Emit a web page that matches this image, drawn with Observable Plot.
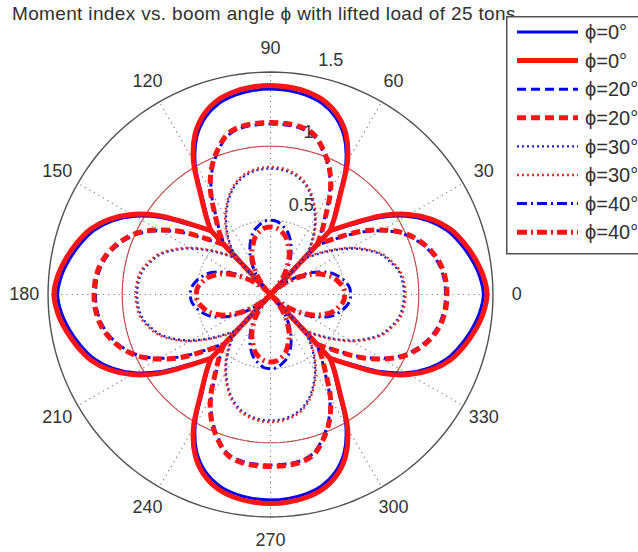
<!DOCTYPE html>
<html>
<head>
<meta charset="utf-8">
<script src="https://cdn.jsdelivr.net/npm/d3@7"></script>
<script src="https://cdn.jsdelivr.net/npm/@observablehq/plot@0.6"></script>
<style>
  html, body { margin: 0; padding: 0; background: #fff; }
  #wrap { position: relative; width: 638px; height: 552px; overflow: hidden; font-family: "Liberation Sans", Arial, sans-serif; }
  #title { position: absolute; left: 12px; top: 3px; font-size: 19px; color: #303030; white-space: nowrap; letter-spacing: 0.35px; }
  #legend { position: absolute; left: 506px; top: 16px; }
</style>
</head>
<body>
<div id="wrap">
  <div id="chart"></div>
  <div id="title"></div>
  <div id="legend"></div>
</div>
<script>
// ---- data ----
const titleText = "Moment index vs. boom angle ϕ with lifted load of 25 tons";
const legendLabels = ["ϕ=0°", "ϕ=0°", "ϕ=20°", "ϕ=20°", "ϕ=30°", "ϕ=30°", "ϕ=40°", "ϕ=40°"];
const seriesColors = ["#0000f0", "#ff1414", "#0000f0", "#ff1414", "#2020c0", "#e03030", "#0000f0", "#ff1414"];
const seriesWidths = [3, 5, 3, 5, 2.4, 2.4, 3, 5];
const seriesDashes = [null, null, "9,5", "9,5", "2,3", "2,3", "10,4,2,4", "10,4,2,4"];

const angleTicks = [0, 30, 60, 90, 120, 150, 180, 210, 240, 270, 300, 330];
const radiusTicks = [0.5, 1, 1.5];

// angular offsets (deg) from the lobe axis: horizontal lobes (0°,180°) and vertical lobes (90°,270°)
const hOffsets = [0, 5, 10, 15, 20, 25, 30, 35, 40, 47];
const vOffsets = [0, 5, 10, 15, 20, 25, 30, 35, 40, 43];

// radius of each curve at those offsets
const phi0BlueH  = [1.435, 1.415, 1.375, 1.325, 1.265, 1.175, 1.055, 0.905, 0.74, 0.58];
const phi0BlueV  = [1.385, 1.38, 1.365, 1.335, 1.275, 1.175, 1.015, 0.80, 0.655, 0.58];
const phi0RedH   = [1.46, 1.44, 1.40, 1.35, 1.29, 1.20, 1.08, 0.93, 0.76, 0.59];
const phi0RedV   = [1.41, 1.405, 1.39, 1.36, 1.30, 1.20, 1.04, 0.82, 0.67, 0.59];
const phi20BlueH = [1.18, 1.175, 1.155, 1.115, 1.055, 0.975, 0.86, 0.73, 0.59, 0.45];
const phi20BlueV = [1.15, 1.148, 1.14, 1.11, 1.03, 0.93, 0.80, 0.64, 0.52, 0.45];
const phi20RedH  = [1.19, 1.185, 1.165, 1.125, 1.065, 0.985, 0.87, 0.74, 0.60, 0.46];
const phi20RedV  = [1.16, 1.158, 1.15, 1.12, 1.04, 0.94, 0.81, 0.65, 0.53, 0.46];
const phi30BlueH = [0.90, 0.895, 0.88, 0.84, 0.79, 0.71, 0.62, 0.52, 0.43, 0.33];
const phi30BlueV = [0.85, 0.845, 0.83, 0.80, 0.75, 0.68, 0.60, 0.51, 0.41, 0.33];
const phi30RedH  = [0.91, 0.905, 0.89, 0.85, 0.80, 0.72, 0.63, 0.53, 0.44, 0.34];
const phi30RedV  = [0.86, 0.855, 0.84, 0.81, 0.76, 0.69, 0.61, 0.52, 0.42, 0.34];
const phi40BlueH = [0.54, 0.535, 0.51, 0.475, 0.43, 0.36, 0.28, 0.19, 0.10, 0.00];
const phi40BlueV = [0.50, 0.495, 0.47, 0.44, 0.39, 0.33, 0.26, 0.18, 0.09, 0.00];
const phi40RedH  = [0.50, 0.495, 0.47, 0.44, 0.39, 0.33, 0.25, 0.17, 0.09, 0.00];
const phi40RedV  = [0.455, 0.45, 0.43, 0.40, 0.35, 0.30, 0.23, 0.16, 0.08, 0.00];

const seriesH = [phi0BlueH, phi0RedH, phi20BlueH, phi20RedH, phi30BlueH, phi30RedH, phi40BlueH, phi40RedH];
const seriesV = [phi0BlueV, phi0RedV, phi20BlueV, phi20RedV, phi30BlueV, phi30RedV, phi40BlueV, phi40RedV];

// ---- geometry ----
const W = 638, H = 552;
const PX = 148.3;          // pixels per unit radius
const CX = 270, CY = 294;  // pole position in the picture
const rad = d => d * Math.PI / 180;
const pol = (r, a) => ({x: r * Math.cos(rad(a)), y: r * Math.sin(rad(a))});

// rows of one curve: four lobes plus spokes from each cusp to the pole
function buildCurve(hVals, vVals, idx) {
  const rows = [];
  const lobes = [
    {axis: 0, offs: hOffsets, vals: hVals},
    {axis: 90, offs: vOffsets, vals: vVals},
    {axis: 180, offs: hOffsets, vals: hVals},
    {axis: 270, offs: vOffsets, vals: vVals}
  ];
  lobes.forEach((L, k) => {
    const seg = `s${idx}-lobe${k}`;
    const n = L.offs.length;
    for (let i = n - 1; i >= 0; i--) rows.push({seg, ...pol(L.vals[i], L.axis - L.offs[i])});
    for (let i = 1; i < n; i++) rows.push({seg, ...pol(L.vals[i], L.axis + L.offs[i])});
    const e = pol(L.vals[n - 1], L.axis + L.offs[n - 1]);
    rows.push({seg: `s${idx}-spoke${k}`, ...e});
    rows.push({seg: `s${idx}-spoke${k}`, x: 0, y: 0});
  });
  return rows;
}

function ring(r) {
  return d3.range(0, 361, 2).map(a => ({r, ...pol(r, a)}));
}

const marks = [];
marks.push(Plot.line(ring(0.5), {x: "x", y: "y", stroke: "#8a8a8a", strokeWidth: 1, strokeDasharray: "1,3"}));
marks.push(Plot.line(ring(1), {x: "x", y: "y", stroke: "#8a8a8a", strokeWidth: 1, strokeDasharray: "1,3"}));
marks.push(Plot.link(angleTicks, {
  x1: 0, y1: 0,
  x2: a => pol(1.5, a).x, y2: a => pol(1.5, a).y,
  stroke: "#7a7a7a", strokeWidth: 1.1, strokeDasharray: "1.2,4"
}));
marks.push(Plot.line(ring(1), {x: "x", y: "y", stroke: "#c84848", strokeWidth: 1.1}));
marks.push(Plot.line(ring(1.5), {x: "x", y: "y", stroke: "#505050", strokeWidth: 1.4}));

seriesH.forEach((h, i) => {
  marks.push(Plot.line(buildCurve(h, seriesV[i], i), {
    x: "x", y: "y", z: "seg",
    stroke: seriesColors[i], strokeWidth: seriesWidths[i],
    strokeDasharray: seriesDashes[i] || undefined,
    curve: "catmull-rom", strokeLinejoin: "round", strokeLinecap: "butt"
  }));
});

marks.push(Plot.text(angleTicks, {
  x: a => pol(1.66, a).x, y: a => pol(1.66, a).y,
  text: a => String(a), fontSize: 18, fill: "#333", textAnchor: "middle"
}));
marks.push(Plot.text(radiusTicks, {
  x: r => pol(r + 0.115, 78.5).x, y: r => pol(r + 0.115, 78.5).y,
  text: r => String(r), fontSize: 18, fill: "#333", textAnchor: "start"
}));

const chart = Plot.plot({
  width: W, height: H,
  marginLeft: 0, marginRight: 0, marginTop: 0, marginBottom: 0,
  x: {domain: [-CX / PX, (W - CX) / PX], axis: null},
  y: {domain: [-(H - CY) / PX, CY / PX], axis: null},
  style: {fontFamily: "'Liberation Sans', Arial, sans-serif", background: "#fff", overflow: "visible"},
  marks
});
document.getElementById("chart").appendChild(chart);
document.getElementById("title").textContent = titleText;

// ---- legend ----
const lg = d3.select("#legend").append("svg").attr("width", 134).attr("height", 240)
  .style("font-family", "'Liberation Sans', Arial, sans-serif");
lg.append("rect").attr("x", 0.75).attr("y", 0.75).attr("width", 150).attr("height", 237)
  .attr("fill", "#fff").attr("stroke", "#505050").attr("stroke-width", 1.5);
legendLabels.forEach((lab, i) => {
  const y = 16 + i * 28.6;
  lg.append("line").attr("x1", 11).attr("x2", 72).attr("y1", y).attr("y2", y)
    .attr("stroke", seriesColors[i]).attr("stroke-width", seriesWidths[i])
    .attr("stroke-dasharray", seriesDashes[i]);
  lg.append("text").attr("x", 79).attr("y", y).attr("dy", "0.36em")
    .attr("font-size", 20).attr("fill", "#303030").text(lab);
});
</script>
</body>
</html>
